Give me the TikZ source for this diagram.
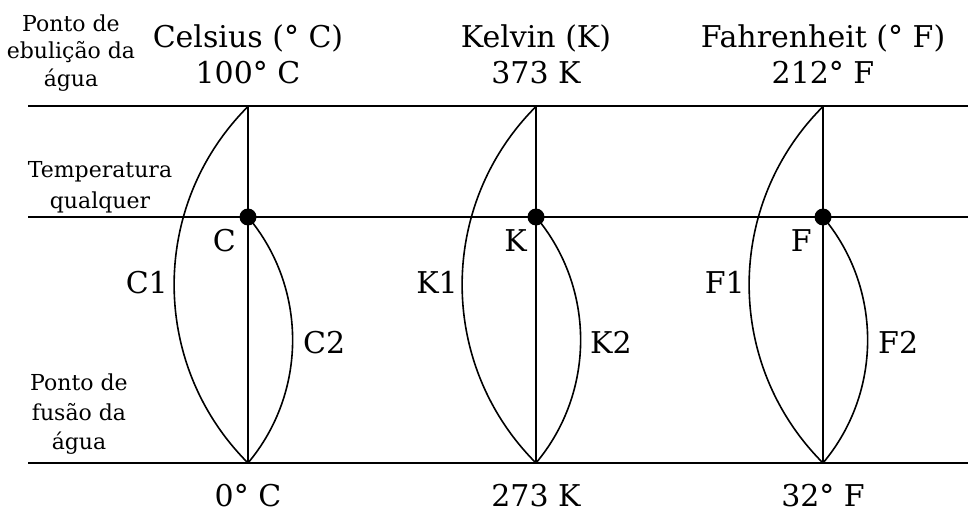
\documentclass[tikz,border=0pt]{standalone}
\usepackage{fontspec}
\setmainfont{DejaVu Serif}
\begin{document}
\begin{tikzpicture}[x=1pt,y=-1pt,
  hline/.style={line width=2pt},
  vline/.style={line width=2.8pt},
  arcline/.style={line width=1.6pt},
  big/.style={font=\fontsize{30}{36}\selectfont, inner sep=0pt},
  small/.style={font=\fontsize{22}{28}\selectfont, inner sep=0pt, anchor=base},
  dotstyle/.style={fill=black}]
\useasboundingbox (0,0) rectangle (968,513);
% horizontal reference lines
\coordinate (L1) at (28,106.5); \coordinate (R1) at (968,106.5);
\coordinate (L2) at (28,217);   \coordinate (R2) at (968,217);
\coordinate (L3) at (28,463);   \coordinate (R3) at (968,463);
\draw[hline] (L1) -- (R1);
\draw[hline] (L2) -- (R2);
\draw[hline] (L3) -- (R3);
% scale points
\foreach \n/\x in {c/248,k/536,f/823}{
  \coordinate (\n top) at (\x,106.5);
  \coordinate (\n dot) at (\x,217);
  \coordinate (\n bot) at (\x,463);
}
\foreach \n in {c,k,f}{
  \draw[vline] (\n top) -- (\n bot);
  \draw[arcline] (\n top) .. controls +(-98.5,98.5) and +(-98.5,-98.5) .. (\n bot);
  \draw[arcline] (\n dot) .. controls +(59.5,70.9) and +(59.5,-70.9) .. (\n bot);
  \fill[dotstyle] (\n dot) circle (8.5);
}
% headers
\node[big, anchor=base] (hc) at (248,48) {Celsius (° C)};
\node[big, anchor=base] (hk) at (536,48) {Kelvin (K)};
\node[big, anchor=base] (hf) at (823,48) {Fahrenheit (° F)};
\node[big, anchor=base] (vc) at (248,84) {100° C};
\node[big, anchor=base] (vk) at (536,84) {373 K};
\node[big, anchor=base] (vf) at (823,84) {212° F};
\node[big, anchor=base] (bc) at (248,506) {0° C};
\node[big, anchor=base] (bk) at (536,506) {273 K};
\node[big, anchor=base] (bf) at (823,506) {32° F};
% point labels
\node[big, anchor=base east] (lc) at (236,251) {C};
\node[big, anchor=base east] (lk) at (527,251) {K};
\node[big, anchor=base east] (lf) at (812,251) {F};
\node[big, anchor=base east] (lc1) at (168,293) {C1};
\node[big, anchor=base east] (lk1) at (458,293) {K1};
\node[big, anchor=base east] (lf1) at (745,293) {F1};
\node[big, anchor=base west] (lc2) at (303,353) {C2};
\node[big, anchor=base west] (lk2) at (590,353) {K2};
\node[big, anchor=base west] (lf2) at (878,353) {F2};
% left side labels
\node[small] (e1) at (71,31.5) {Ponto de};
\node[small] (e2) at (71,59) {ebulição da};
\node[small] (e3) at (71,86.5) {água};
\node[small] (t1) at (100,178) {Temperatura};
\node[small] (t2) at (100,208) {qualquer};
\node[small] (m1) at (79,390) {Ponto de};
\node[small] (m2) at (79,420) {fusão da};
\node[small] (m3) at (79,449) {água};
\end{tikzpicture}
\end{document}
